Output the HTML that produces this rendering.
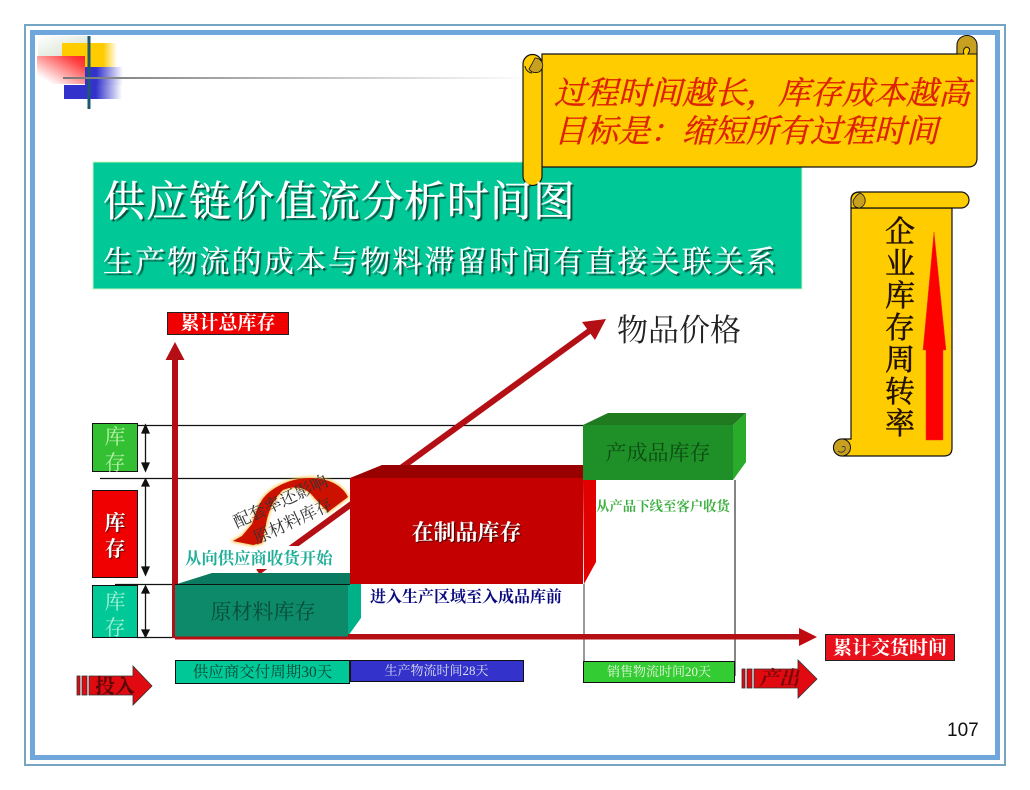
<!DOCTYPE html>
<html lang="zh"><head><meta charset="utf-8">
<style>
html,body{margin:0;padding:0;background:#fff}
#p{position:relative;width:1030px;height:790px;overflow:hidden;background:#fff;font-family:"Liberation Serif","Noto Serif CJK SC",serif}
svg{position:absolute;left:0;top:0}
.t{position:absolute;white-space:nowrap;line-height:1}
.c{text-align:center}
.s{font-family:"Liberation Sans","Noto Sans CJK SC",sans-serif}
</style></head><body><div id="p">
<svg width="1030" height="790" viewBox="0 0 1030 790">
<defs>
<linearGradient id="gl" x1="0" x2="1" y1="0" y2="0"><stop offset="0" stop-color="#777"/><stop offset="1" stop-color="#fff"/></linearGradient>
<linearGradient id="gy" x1="0" x2="1" y1="0" y2="0"><stop offset="0" stop-color="#fc0"/><stop offset=".75" stop-color="#fc0"/><stop offset="1" stop-color="#fff"/></linearGradient>
<linearGradient id="gr" x1="1" x2="0" y1="0" y2="1"><stop offset="0" stop-color="#f22"/><stop offset=".2" stop-color="#f44"/><stop offset=".85" stop-color="#fff"/></linearGradient>
<linearGradient id="gb" x1="0" x2="1" y1="0" y2="0"><stop offset="0" stop-color="#33c"/><stop offset=".3" stop-color="#33c"/><stop offset="1" stop-color="#fff"/></linearGradient>
<linearGradient id="gb2" x1="0" x2="1" y1="0" y2="0"><stop offset="0" stop-color="#33c"/><stop offset=".55" stop-color="#33c"/><stop offset="1" stop-color="#fff"/></linearGradient>
<linearGradient id="gg" x1="1" x2="0" y1="1" y2="0"><stop offset="0" stop-color="#d0dcc8"/><stop offset="1" stop-color="#fff"/></linearGradient>
<filter id="bl"><feGaussianBlur stdDeviation="1.500"/></filter>
</defs>
<!-- frame -->
<rect x="25" y="25" width="980" height="740" fill="none" stroke="#76a5c4" stroke-width="2"/>
<rect x="32.500" y="32.500" width="965" height="725" fill="none" stroke="#6fa6dc" stroke-width="5"/>
<!-- logo -->
<rect x="38" y="36" width="50" height="22" fill="url(#gg)"/>
<rect x="62" y="43" width="55" height="24" fill="url(#gy)"/>
<rect x="85" y="67" width="38" height="18" fill="url(#gb)"/>
<rect x="64" y="85" width="58" height="14" fill="url(#gb2)"/>
<rect x="37" y="56" width="48" height="28" fill="url(#gr)"/>
<rect x="87.500" y="36" width="3" height="73" fill="#1c5a70"/>
<rect x="63" y="77" width="470" height="2" fill="url(#gl)"/>
<!-- title -->
<rect x="93" y="162" width="709" height="127" fill="#00c896" stroke="#c8f5c0" stroke-width="1"/>
<!-- scroll 1 -->
<path d="M542,54 H957 V46 A10,10 0 0 1 977,46 V158 Q977,167 968,167 H542 Z" fill="#fc0" stroke="#111" stroke-width="1.200"/>
<path d="M957,45 A10,9.500 0 0 1 977,45 L977,54 H968 Q972,48 966,47 Q962,50 964,54 H957 Z" fill="#c8a020" stroke="#111" stroke-width="1"/>
<path d="M523,64 A9.500,9.500 0 0 1 542,64 V176 A9.500,9.500 0 0 1 523,176 Z" fill="#fc0" stroke="#111" stroke-width="1.200"/>
<path d="M535,58 A7.500,7.500 0 0 1 539,72 Q532,74 529,69 Q532,64 535,58 Z" fill="#c8a020" stroke="#111" stroke-width=".8"/>
<path d="M525,66 A8,8 0 0 0 532,73" fill="none" stroke="#111" stroke-width="1"/>
<!-- scroll 2 -->
<path d="M851,208 V439 H842 A8.500,8.500 0 0 0 842,456 H944 Q952,456 952,448 V208 Z" fill="#fc0" stroke="#111" stroke-width="1.200"/>
<path d="M860,192 H961 A8,8 0 0 1 961,208 H851 V200 Q851,192 860,192 Z" fill="#fc0" stroke="#111" stroke-width="1.200"/>
<path d="M860,193 A8,8 0 0 1 860,208 Q853,208 853,201 Q855,196 860,193 Z" fill="#c8a020" stroke="#111" stroke-width=".8"/>
<path d="M851,200 Q851,192 860,192" fill="none" stroke="#111" stroke-width="1.200"/>
<circle cx="842" cy="447.500" r="8.500" fill="#c8a020" stroke="#111"/>
<path d="M842,447 q4,-2 3,3 q-3,4 -7,1" fill="none" stroke="#333" stroke-width=".8"/>
<polygon points="934,232 946,350 943,350 943,440 926,440 926,350 923,350" fill="#f00" stroke="#e33" stroke-width=".5"/>
<!-- guide lines -->
<g stroke="#111" stroke-width="1.200" fill="none">
<path d="M137,425.500 H585"/><path d="M100,478.500 H352"/><path d="M115,584.500 H176"/><path d="M137,637.500 H176"/>
</g>
<path d="M584,584 V680" stroke="#555" stroke-width="1.200"/><path d="M735,480 V676" stroke="#333" stroke-width="1.200"/>
<!-- side boxes -->
<rect x="92.500" y="423.500" width="45" height="48" fill="#33c033" stroke="#111"/>
<rect x="92.500" y="490.500" width="45" height="87" fill="#f00000" stroke="#111"/>
<rect x="92.500" y="585.500" width="45" height="52" fill="#00c896" stroke="#111"/>
<!-- double arrows -->
<g stroke="#111" stroke-width="1.300" fill="#111">
<path d="M145.500,428 V468"/><polygon points="145.500,425 142,433 149,433"/><polygon points="145.500,471 142,463 149,463"/>
<path d="M145.500,482 V572"/><polygon points="145.500,479 142,486 149,486"/><polygon points="145.500,575 142,567 149,567"/>
<path d="M145.500,589 V634"/><polygon points="145.500,586 142,593 149,593"/><polygon points="145.500,637 142,630 149,630"/>
</g>
<!-- axes -->
<rect x="172" y="358" width="6" height="280" fill="#b40f14"/>
<polygon points="175,342 184.500,360 165.500,360" fill="#b40f14"/>
<line x1="258" y1="572" x2="592" y2="329" stroke="#b40f14" stroke-width="6"/>
<polygon points="606,319 595,340 582,322" fill="#b40f14"/>
<rect x="175" y="634" width="625" height="5.500" fill="#b40f14"/>
<polygon points="817,637 799,628 799,646" fill="#c00a10"/>
<!-- white band hiding diagonal behind label -->
<rect x="184" y="546" width="150" height="23" fill="#fff"/>
<!-- curved arrow -->
<path d="M348,497 C342,485 328,478 310,478 C290,478 270,488 262,500 C256,510 254,518 252,524 L242,536 L233,541 L253,545 L262,543 L266,524 C268,512 274,498 283,490 C292,486 304,486 312,495 C318,502 324,508 328,512 Z" fill="#ffc040" stroke="#ffc040" stroke-width="2" filter="url(#bl)"/>
<path d="M348,497 C342,485 328,478 310,478 C290,478 270,488 262,500 C256,510 254,518 252,524 L242,536 L233,541 L253,545 L262,543 L266,524 C268,512 274,498 283,490 C292,486 304,486 312,495 C318,502 324,508 328,512 Z" fill="#cc1100"/>
<!-- raw box -->
<polygon points="177,584 212,573 350,573 350,584" fill="#0a7a60"/>
<polygon points="348,584 361,584 361,618 348,636" fill="#00b088"/>
<rect x="175" y="584.500" width="173" height="52" fill="#0c8a6a"/>
<path d="M175,584.500 H350" stroke="#111" stroke-width="1"/>
<!-- WIP -->
<polygon points="350,478 382,465 583,465 583,480" fill="#990000"/>
<polygon points="583,480 596,480 596,562 584,584" fill="#e00000"/>
<rect x="350" y="478" width="233" height="106" fill="#c40000"/>
<!-- FG -->
<polygon points="583,425 608,413 746,413 733,425" fill="#1f7a20"/>
<polygon points="733,425 746,413 746,462 733,480" fill="#2aab2a"/>
<rect x="583" y="425" width="150" height="55" fill="#1f8f28"/>
<!-- horizontal axis over boxes -->
<rect x="348" y="634" width="390" height="5.500" fill="#b40f14"/>
<!-- label boxes -->
<rect x="167.500" y="312.500" width="121" height="22" fill="#f00000" stroke="#222"/>
<rect x="825.500" y="634.500" width="129" height="26" fill="#e8101a" stroke="#222"/>
<!-- bars -->
<rect x="175.500" y="660.500" width="174" height="23" fill="#00c896" stroke="#111"/>
<rect x="350.500" y="660.500" width="173" height="21" fill="#3333cc" stroke="#111"/>
<rect x="583.500" y="661.500" width="151" height="21" fill="#33cc33" stroke="#111"/>
<!-- in/out arrows -->
<g fill="#e00a10" stroke="#333" stroke-width=".8">
<rect x="77" y="676" width="3" height="19"/><rect x="82" y="676" width="5" height="19"/>
<polygon points="89,676 133,676 133,666 152,686 133,705 133,695 89,695"/>
<rect x="742" y="669" width="3" height="19"/><rect x="747" y="669" width="5" height="19"/>
<polygon points="754,669 798,669 798,660 817,679 798,698 798,688 754,688"/>
</g>
</svg>

<!-- title text -->
<div class="t" style="left:103px;top:182px;font-size:42px;letter-spacing:1px;color:#fff;-webkit-text-stroke:.4px #fff;text-shadow:2px 2px 1px #0a4a3a">供应链价值流分析时间图</div>
<div class="t" style="left:103px;top:248px;font-size:30px;letter-spacing:2.150px;color:#fff;-webkit-text-stroke:.3px #fff;text-shadow:2px 2px 1px #0a4a3a">生产物流的成本与物料滞留时间有直接关联关系</div>

<!-- scroll texts -->
<div class="t" style="left:554px;top:77px;font-size:32px;font-style:italic;color:#dd2200;-webkit-text-stroke:.4px #dd2200">过程时间越长，库存成本越高</div>
<div class="t" style="left:554px;top:115px;font-size:32px;font-style:italic;color:#dd2200;-webkit-text-stroke:.4px #dd2200">目标是：缩短所有过程时间</div>
<div class="t c" style="left:884px;top:217px;width:32px;font-size:30px;line-height:32px;color:#221100;white-space:normal;-webkit-text-stroke:.5px #221100">企业库存周转率</div>

<div class="t" style="left:617px;top:315px;font-size:31px;color:#222">物品价格</div>

<!-- side box text -->
<div class="t c" style="left:92px;top:424px;width:46px;font-size:21px;line-height:26px;color:#b8f0a8">库<br>存</div>
<div class="t c" style="left:92px;top:510px;width:46px;font-size:21px;line-height:26px;font-weight:bold;color:#fff;text-shadow:1px 1px 1px #500">库<br>存</div>
<div class="t c" style="left:92px;top:589px;width:46px;font-size:21px;line-height:26px;color:#a8f0d8">库<br>存</div>

<!-- labels -->
<div class="t c" style="left:167px;top:314px;width:122px;font-size:19px;font-weight:bold;color:#fff">累计总库存</div>
<div class="t c" style="left:825px;top:639px;width:130px;font-size:19px;font-weight:bold;color:#fff">累计交货时间</div>

<div class="t" style="left:238px;top:514px;font-size:17px;color:#333;transform:rotate(-25deg);transform-origin:0 100%">配套率还影响</div>
<div class="t" style="left:258px;top:530px;font-size:17px;color:#333;transform:rotate(-25deg);transform-origin:0 100%">原材料库存</div>

<div class="t" style="left:185px;top:551px;font-size:16.400px;font-weight:bold;color:#1fae98">从向供应商收货开始</div>
<div class="t" style="left:370px;top:590px;font-size:16px;font-weight:bold;color:#0a0a80">进入生产区域至入成品库前</div>
<div class="t" style="left:596px;top:500px;font-size:13.400px;font-weight:bold;color:#3cb040">从产品下线至客户收货</div>

<div class="t c" style="left:175px;top:602px;width:176px;font-size:21px;color:#0a4a3a">原材料库存</div>
<div class="t c" style="left:350px;top:522px;width:233px;font-size:22px;font-weight:bold;color:#fff;text-shadow:1px 1px 1px #400">在制品库存</div>
<div class="t c" style="left:583px;top:443px;width:150px;font-size:21px;color:#0b4a10">产成品库存</div>

<div class="t c" style="left:175px;top:665px;width:175px;font-size:15.500px;color:#0a4a3a">供应商交付周期30天</div>
<div class="t c" style="left:350px;top:664px;width:173px;font-size:13px;color:#dde">生产物流时间28天</div>
<div class="t c" style="left:583px;top:665px;width:152px;font-size:13px;color:#e8f8e0">销售物流时间20天</div>

<div class="t" style="left:95px;top:677px;font-size:20px;font-weight:bold;color:#5a0808">投入</div>
<div class="t" style="left:759px;top:669px;font-size:20px;font-weight:bold;font-style:italic;color:#7a0808">产出</div>

<div class="t s" style="left:947px;top:721px;font-size:19px;color:#111">107</div>
</div></body></html>
